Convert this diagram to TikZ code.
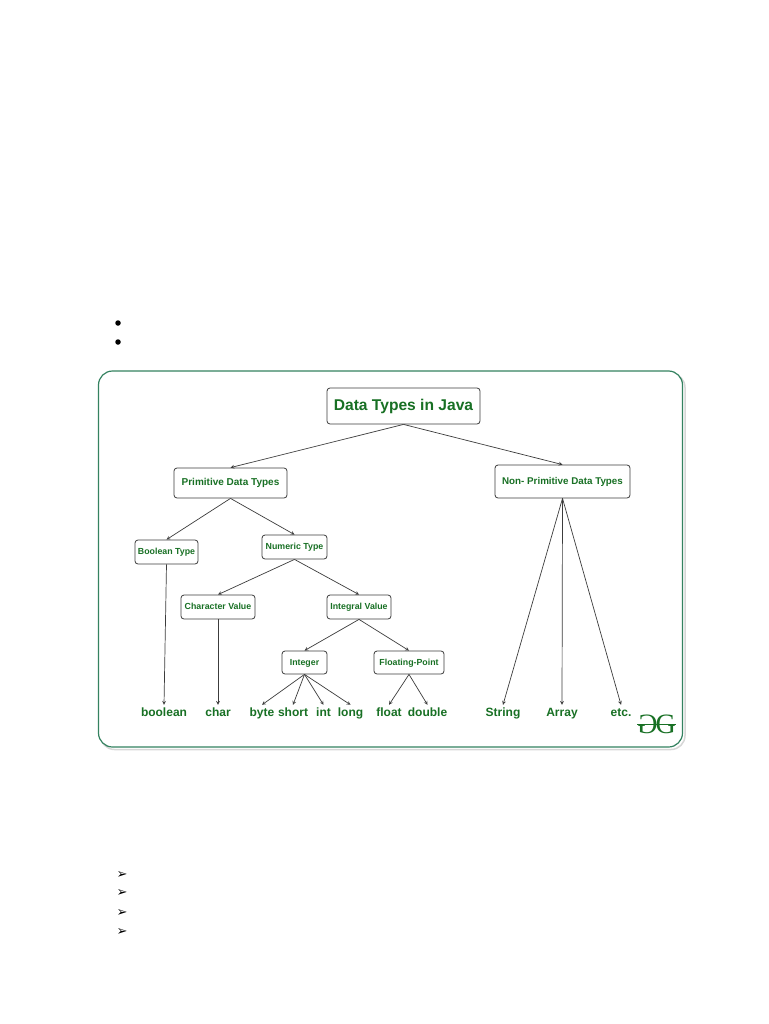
\documentclass[tikz,border=0pt]{standalone}
\usepackage{fontspec}
\setmainfont{Liberation Sans}
\newfontfamily\symfont{DejaVu Sans}
\newfontfamily\logofont{Liberation Serif}
\usepackage{color}
\definecolor{gfgframe}{RGB}{52,130,96}
\definecolor{gfgtext}{RGB}{24,112,36}
\definecolor{gfgline}{RGB}{60,60,60}
\definecolor{gfgshadow}{RGB}{215,215,215}

\begin{document}
\begin{tikzpicture}[x=1pt,y=-1pt,
  main/.style = {draw=gfgline, rounded corners=3pt, fill=white, line width=0.8pt, text=gfgtext, font=\bfseries\fontsize{8.8}{9}\selectfont, inner sep=0pt, text height=6.5pt, text depth=1.5pt},
  leaf/.style = {text=gfgtext, font=\bfseries\fontsize{12}{13}\selectfont, inner sep=0pt, text height=9pt, text depth=3pt, minimum height=16pt},
  link/.style = {draw=gfgline, line width=0.7pt, -{stealth}},
  dot/.style = {circle, fill=black, inner sep=0pt, minimum size=5.5pt},
  tick/.style = {inner sep=0pt, font=\symfont\fontsize{13}{14}\selectfont}]
\useasboundingbox (0,0) rectangle (768,1024);
% page bullets
\node[dot](b1) at (118,323) {}; \node[dot](b2) at (118,342) {};
\node[tick](t1) at (122,875) {➢}; \node[tick](t2) at (122,893) {➢}; \node[tick](t3) at (122,913) {➢}; \node[tick](t4) at (122,932) {➢};
% frame
\draw [gfgshadow, line width=1.5pt, rounded corners=14pt] (100.5,373.5) rectangle (685,749.5);
\draw [gfgframe, line width=1.2pt, fill=white, rounded corners=14pt] (98.5,371) rectangle (682.5,747);
% boxes
\node[main, minimum width=153pt, minimum height=36pt, text height=11pt, text depth=3pt, font=\bfseries\fontsize{15.6}{16}\selectfont](data) at (403.5,406) {Data Types in Java};
\node[main, minimum width=113pt, minimum height=30pt, text height=7.5pt, text depth=2pt, font=\bfseries\fontsize{10}{11}\selectfont](prim) at (230.5,483) {Primitive Data Types};
\node[main, minimum width=135pt, minimum height=33pt, text height=7.5pt, text depth=2pt, font=\bfseries\fontsize{9.8}{11}\selectfont](nonprim) at (562.5,481.5) {Non- Primitive Data Types};
\node[main, minimum width=63pt, minimum height=24pt](bool) at (166.5,552) {Boolean Type};
\node[main, minimum width=65pt, minimum height=24pt](num) at (294.5,547) {Numeric Type};
\node[main, minimum width=74pt, minimum height=24pt](char) at (218,607) {Character Value};
\node[main, minimum width=64pt, minimum height=24pt](integral) at (359,607) {Integral Value};
\node[main, minimum width=45pt, minimum height=23pt](integer) at (304.5,662.5) {Integer};
\node[main, minimum width=70pt, minimum height=23pt](floating) at (409,662.5) {Floating-Point};
% leaves
\node[leaf](lbool) at (164,713) {boolean}; \node[leaf](lchar) at (218,713) {char};
\node[leaf](lbyte) at (262,713) {byte}; \node[leaf](lshort) at (293,713) {short}; \node[leaf](lint) at (323.5,713) {int}; \node[leaf](llong) at (350.5,713) {long};
\node[leaf](lfloat) at (389,713) {float}; \node[leaf](ldouble) at (427.5,713) {double};
\node[leaf](lstring) at (503,713) {String}; \node[leaf](larray) at (562,713) {Array}; \node[leaf](letc) at (621,713) {etc.};
% connectors
\draw[link] (data.south) -- (prim.north); \draw[link] (data.south) -- (nonprim.north);
\draw[link] (prim.south) -- (bool.north); \draw[link] (prim.south) -- (num.north);
\draw[link] (num.south) -- (char.north); \draw[link] (num.south) -- (integral.north);
\draw[link] (integral.south) -- (integer.north); \draw[link] (integral.south) -- (floating.north);
\draw[link] (bool.south) -- (lbool.north); \draw[link] (char.south) -- (lchar.north);
\draw[link] (integer.south) -- (lbyte.north); \draw[link] (integer.south) -- (lshort.north); \draw[link] (integer.south) -- (lint.north); \draw[link] (integer.south) -- (llong.north);
\draw[link] (floating.south) -- (lfloat.north); \draw[link] (floating.south) -- (ldouble.north);
\draw[link] (nonprim.south) -- (lstring.north); \draw[link] (nonprim.south) -- (larray.north); \draw[link] (nonprim.south) -- (letc.north);
% logo
\node[inner sep=0pt, text=gfgtext, font=\logofont\fontsize{28}{28}\selectfont](logo) at (656.5,724) {\reflectbox{G}\kern-2pt G};
\draw [gfgtext, line width=1pt] (logo.west) -- (logo.east);
\end{tikzpicture}
\end{document}
